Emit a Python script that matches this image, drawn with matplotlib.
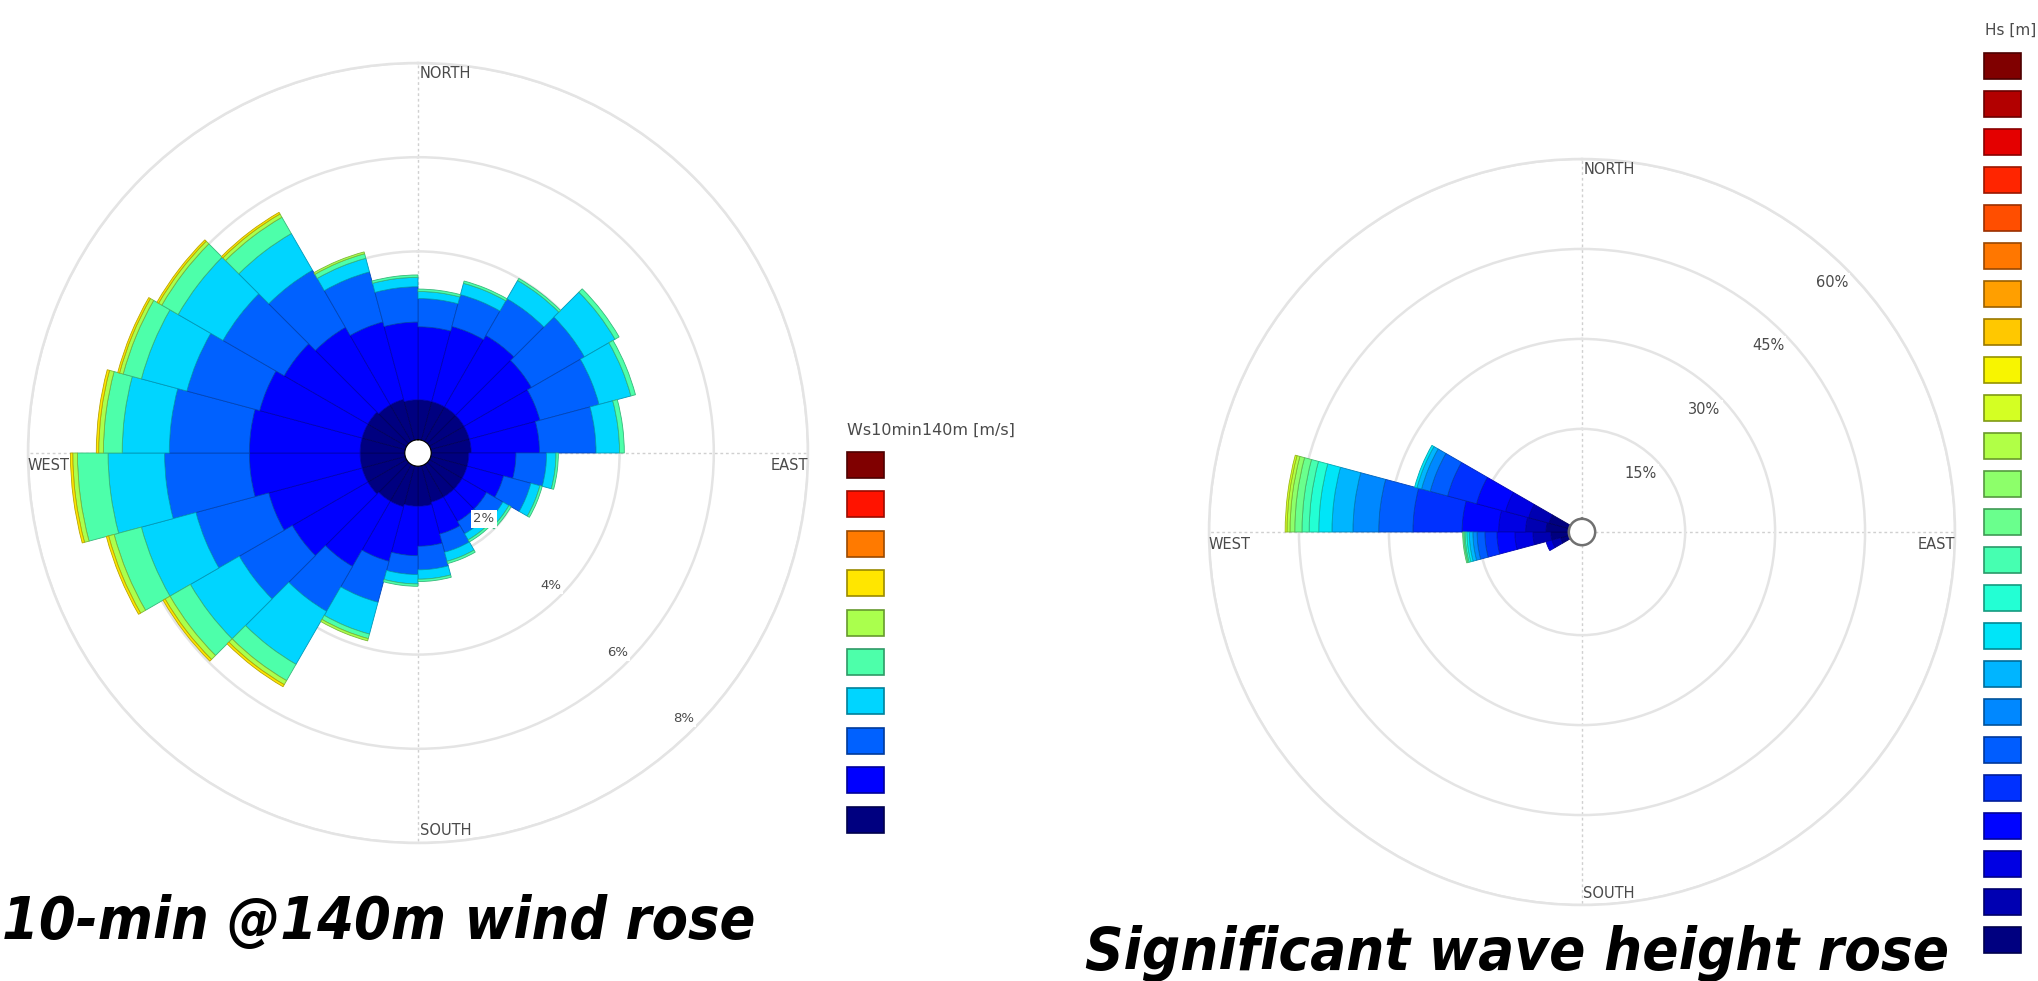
import numpy as np
import matplotlib
matplotlib.use('Agg')
import matplotlib.pyplot as plt
from matplotlib.patches import Rectangle
from matplotlib import font_manager

W, H = 2038, 981

# ---- wind rose: 24 sectors of 15 deg, cumulative % per speed bin ----
wind_dirs = [7.5, 22.5, 37.5, 52.5, 67.5, 82.5, 97.5, 112.5, 127.5, 142.5, 157.5, 172.5,
             187.5, 202.5, 217.5, 232.5, 247.5, 262.5, 277.5, 292.5, 307.5, 322.5, 337.5, 352.5]
wind_cum = [
    [0.85, 2.4, 3.0, 3.15, 3.2],
    [0.85, 2.5, 3.2, 3.45, 3.5],
    [0.85, 2.6, 3.5, 3.95, 4.0],
    [0.85, 2.5, 3.8, 4.55, 4.65],
    [0.85, 2.4, 3.7, 4.4, 4.5],
    [0.85, 2.3, 3.5, 4.0, 4.1],
    [0.8, 1.8, 2.45, 2.65, 2.7],
    [0.8, 1.6, 2.2, 2.4, 2.45],
    [0.8, 1.4, 1.8, 1.95, 2.0],
    [0.8, 1.4, 1.7, 1.85, 1.9],
    [0.8, 1.5, 1.9, 2.1, 2.15],
    [0.85, 1.7, 2.2, 2.4, 2.45],
    [0.85, 1.9, 2.3, 2.5, 2.55],
    [0.9, 2.1, 3.0, 3.7, 3.8, 3.85],
    [0.9, 2.5, 3.6, 4.9, 5.3, 5.4, 5.45],
    [0.95, 2.8, 4.1, 5.3, 5.8, 5.92, 5.97],
    [0.95, 3.0, 4.6, 5.8, 6.4, 6.52, 6.57],
    [0.95, 3.3, 5.1, 6.3, 6.95, 7.05, 7.1],
    [0.95, 3.3, 5.0, 6.0, 6.4, 6.5, 6.55],
    [0.95, 3.2, 4.8, 5.8, 6.2, 6.28, 6.32],
    [0.95, 3.0, 4.5, 5.6, 6.0, 6.08, 6.12],
    [0.9, 2.8, 4.2, 5.1, 5.5, 5.58, 5.62],
    [0.9, 2.6, 3.7, 4.0, 4.1, 4.14],
    [0.85, 2.5, 3.25, 3.45, 3.5],
]
wind_rings = [2, 4, 6, 8]
wind_ring_labels = ['2%', '4%', '6%', '8%']
wind_nbins = 10

# ---- wave rose: only the westerly sectors carry data ----
wave_dirs = [247.5, 262.5, 277.5, 292.5]
wave_cum = [
    [1.5, 3.0, 4.0],
    [3.0, 6.0, 9.0, 12.0, 14.0, 15.3, 16.0, 16.6, 17.0, 17.3, 17.5, 17.7],
    [3.8, 7.2, 11.7, 17.8, 26.0, 31.7, 36.0, 39.5, 41.7, 43.3, 44.5, 45.7, 46.5, 47.0, 47.3],
    [3.5, 7.0, 11.0, 16.0, 21.0, 24.0, 25.5, 26.3, 26.7],
]
wave_rings = [15, 30, 45, 60]
wave_ring_labels = ['15%', '30%', '45%', '60%']
wave_nbins = 24

txt_col = '#4a4a4a'


def px(x, y):
    return x / W, 1 - y / H


def title_font():
    # prefer a narrow bold italic face, the titles are condensed
    want = ['LiberationSansNarrow-BoldItalic', 'DejaVuSansCondensed-BoldOblique']
    for w in want:
        for f in font_manager.fontManager.ttflist:
            if w.lower() in f.fname.lower().replace(' ', ''):
                return font_manager.FontProperties(fname=f.fname)
    return font_manager.FontProperties(family='Liberation Sans', weight='bold', style='italic')


def rose(ax, dirs, cum, colors, rings, ring_labels, rorigin, label_angle, label_off,
         hole_edge, pct_size):
    ax.set_theta_zero_location('N')
    ax.set_theta_direction(-1)
    width = np.radians(15)
    nb = max(len(c) for c in cum)
    for j in range(nb):
        th, hh, bb = [], [], []
        for d, c in zip(dirs, cum):
            if j < len(c):
                lo = c[j - 1] if j > 0 else 0
                th.append(np.radians(d))
                hh.append(c[j] - lo)
                bb.append(lo)
        col = colors[j]
        ec = tuple(np.array(col[:3]) * 0.72)
        ax.bar(th, hh, width=width, bottom=bb, color=col, edgecolor=ec,
               linewidth=0.6, zorder=2)
    ax.set_ylim(0, rings[-1])
    ax.set_rorigin(rorigin)
    ax.set_yticks(rings)
    ax.set_yticklabels([])
    ax.set_xticks(np.radians([0, 90, 180, 270]))
    ax.set_xticklabels([])
    ax.yaxis.grid(True, color='#e4e4e4', lw=1.8, ls='-')
    ax.xaxis.grid(True, color='#d0d0d0', lw=1.0, ls=(0, (2, 2)))
    ax.set_axisbelow(True)
    ax.spines['polar'].set_color('#e4e4e4')
    ax.spines['polar'].set_linewidth(1.8)
    if hole_edge:
        ax.spines['inner'].set_color('#707070')
        ax.spines['inner'].set_linewidth(1.8)
    else:
        ax.spines['inner'].set_visible(False)
    for r, lab in zip(rings, ring_labels):
        ax.text(np.radians(label_angle), r - label_off, lab, ha='center', va='center',
                fontsize=pct_size, color=txt_col, zorder=5,
                bbox=dict(fc='white', ec='none', pad=1.5))
    kw = dict(transform=ax.transAxes, fontsize=10.5, color=txt_col, zorder=5)
    ax.text(0.502, 0.996, 'NORTH', ha='left', va='top', **kw)
    ax.text(0.502, 0.006, 'SOUTH', ha='left', va='bottom', **kw)
    ax.text(0.0, 0.493, 'WEST', ha='left', va='top', **kw)
    ax.text(1.0, 0.493, 'EAST', ha='right', va='top', **kw)


fig = plt.figure(figsize=(W / 100, H / 100), dpi=100)

# left rose: centre (418, 453), radius 390 px
ax1 = fig.add_axes([28 / W, (H - 843) / H, 780 / W, 780 / H], projection='polar')
wind_colors = plt.cm.jet(np.linspace(0, 1, wind_nbins))
rose(ax1, wind_dirs, wind_cum, wind_colors, wind_rings, wind_ring_labels,
     -0.28, 135, 0.3, False, 9.5)

# right rose: centre (1582, 532), radius 373 px
ax2 = fig.add_axes([1209 / W, (H - 905) / H, 746 / W, 746 / H], projection='polar')
wave_colors = plt.cm.jet(np.linspace(0, 1, wave_nbins))
rose(ax2, wave_dirs, wave_cum, wave_colors, wave_rings, wave_ring_labels,
     -2.2, 45, 3.3, True, 10.5)

# legends (colour boxes only, top = highest bin)
ov = fig.add_axes([0, 0, 1, 1])
ov.set_xlim(0, W)
ov.set_ylim(H, 0)
ov.axis('off')


def legend_boxes(x0, y0, step, n, colors, title, tx, ty, tsize):
    for i in range(n):
        c = colors[n - 1 - i]
        ec = tuple(np.array(c[:3]) * 0.6)
        ov.add_patch(Rectangle((x0, y0 + i * step), 37, 26, facecolor=c,
                               edgecolor=ec, linewidth=1.2))
    ov.text(tx, ty, title, ha='left', va='center', fontsize=tsize, color=txt_col)


legend_boxes(847, 452, 39.4, wind_nbins, wind_colors, 'Ws10min140m [m/s]', 847, 430, 11.5)
legend_boxes(1984, 53, 38.0, wave_nbins, wave_colors, 'Hs [m]', 1985, 30, 11)

# big bold italic captions under the roses, scaled to their width in the picture
tf = title_font()
captions = [('10-min @140m wind rose', 2, 756, 939),
            ('Significant wave height rose', 1085, 1948, 970)]
renderer = fig.canvas.get_renderer()
for text, x0, x1, yb in captions:
    t = fig.text(*px(x0, yb), text, ha='left', va='baseline', fontproperties=tf,
                 color='black')
    t.set_fontsize(50)
    w = t.get_window_extent(renderer).width
    t.set_fontsize(50 * (x1 - x0) / w)

fig.savefig('out.png', dpi=100)
